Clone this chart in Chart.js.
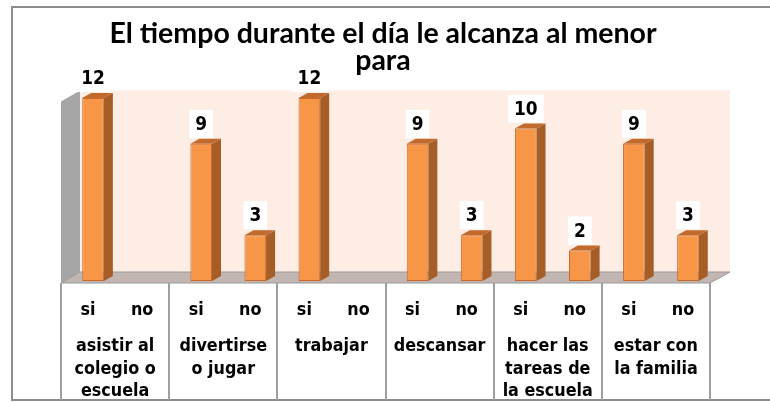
<!DOCTYPE html>
<html>
<head>
<meta charset="utf-8">
<script src="https://cdn.jsdelivr.net/npm/chart.js@4.4.1/dist/chart.umd.min.js"></script>
<style>
  html, body { margin: 0; padding: 0; background: #fff; }
  #wrap { width: 770px; height: 402px; }
</style>
</head>
<body>
<div id="wrap"><canvas id="chart" width="770" height="402"></canvas></div>
<script>
const titleLines = ["El tiempo durante el día le alcanza al menor", "para"];
const categories = [
    ["asistir al", "colegio o", "escuela"],
    ["divertirse", "o jugar"],
    ["trabajar"],
    ["descansar"],
    ["hacer las", "tareas de", "la escuela"],
    ["estar con", "la familia"]
];
const seriesNames = ["si", "no"];
const siValues = [12, 9, 12, 9, 10, 9];
const noValues = [null, 3, null, 3, 2, 3];

const labelFont = "bold 16px 'DejaVu Sans'";
const stretch = 1.15;              // the original text is a bit tall
const depthX = 9, depthY = 5;      // bar depth
const wallX = 19, wallY = 11;      // floor / wall depth

function tallText(ctx, t, x, y) {
    ctx.save();
    ctx.translate(x, y);
    ctx.scale(1, stretch);
    ctx.fillText(t, 0, 0);
    ctx.restore();
}

// walls, floor, table, title
const scenePlugin = {
    id: "scene",
    beforeDatasetsDraw(chart) {
        const ctx = chart.ctx;
        const a = chart.chartArea;
        const x = chart.scales.x;
        const fl = a.left - 5, fr = a.right - 5, fy = a.bottom + 2;

        ctx.save();
        // outer frame
        ctx.strokeStyle = "#8c8c8c";
        ctx.lineWidth = 2;
        ctx.strokeRect(12, 7, 800, 393);

        // back wall
        ctx.fillStyle = "#fdede5";
        ctx.fillRect(fl + wallX, a.top, fr - fl + 1, fy - wallY - a.top);

        // side wall
        ctx.fillStyle = "#a6a6a6";
        ctx.beginPath();
        ctx.moveTo(fl, a.top + wallY);
        ctx.lineTo(fl + wallX, a.top);
        ctx.lineTo(fl + wallX, fy - wallY);
        ctx.lineTo(fl, fy);
        ctx.closePath();
        ctx.fill();

        // floor
        ctx.fillStyle = "#c1b6b1";
        ctx.strokeStyle = "#9a9a9a";
        ctx.lineWidth = 1;
        ctx.beginPath();
        ctx.moveTo(fl, fy);
        ctx.lineTo(fl + wallX, fy - wallY);
        ctx.lineTo(fr + wallX + 1, fy - wallY);
        ctx.lineTo(fr, fy);
        ctx.closePath();
        ctx.fill();
        ctx.stroke();

        // table lines
        ctx.strokeStyle = "#a0a0a0";
        ctx.lineWidth = 2;
        const cw = (a.right - a.left) / categories.length;
        for (let i = 0; i <= categories.length; i++) {
            const lx = Math.round(fl + i * cw);
            ctx.beginPath();
            ctx.moveTo(lx, fy);
            ctx.lineTo(lx, 400);
            ctx.stroke();
        }

        // table text
        ctx.fillStyle = "#000";
        ctx.font = labelFont;
        ctx.textAlign = "center";
        ctx.textBaseline = "alphabetic";
        chart.data.datasets.forEach((ds, d) => {
            chart.getDatasetMeta(d).data.forEach(bar => {
                tallText(ctx, ds.label, bar.x - 5, 315);
            });
        });
        categories.forEach((lines, i) => {
            const cx = x.getPixelForValue(i) - 5;
            lines.forEach((t, j) => tallText(ctx, t, cx, 351 + j * 22.5));
        });

        // title
        ctx.font = "bold 28.5px Lato";
        titleLines.forEach((t, j) => ctx.fillText(t, 383, 43 + j * 27));
        ctx.restore();
    },
    afterDatasetsDraw(chart) {
        const ctx = chart.ctx;
        ctx.save();
        chart.data.datasets.forEach((ds, d) => {
            chart.getDatasetMeta(d).data.forEach((bar, i) => {
                const v = ds.data[i];
                if (!v) return;
                const l = bar.x - bar.width / 2, r = bar.x + bar.width / 2;
                // side face
                ctx.fillStyle = "#a65d26";
                ctx.beginPath();
                ctx.moveTo(r, bar.y);
                ctx.lineTo(r + depthX, bar.y - depthY);
                ctx.lineTo(r + depthX, bar.base - depthY);
                ctx.lineTo(r, bar.base);
                ctx.closePath();
                ctx.fill();
                // top face
                ctx.fillStyle = "#c26a2c";
                ctx.beginPath();
                ctx.moveTo(l, bar.y);
                ctx.lineTo(l + depthX, bar.y - depthY);
                ctx.lineTo(r + depthX, bar.y - depthY);
                ctx.lineTo(r, bar.y);
                ctx.closePath();
                ctx.fill();

                // value label with white box
                ctx.font = "bold 17px 'DejaVu Sans'";
                const txt = String(v);
                const w = ctx.measureText(txt).width + 12;
                const cy = bar.y - 20;
                ctx.fillStyle = "#fff";
                ctx.fillRect(bar.x - w / 2, cy - 14, w, 28);
                ctx.fillStyle = "#000";
                ctx.textAlign = "center";
                ctx.textBaseline = "middle";
                tallText(ctx, txt, bar.x, cy + 1);
            });
        });
        ctx.restore();
    }
};

new Chart(document.getElementById("chart"), {
    type: "bar",
    data: {
        labels: categories,
        datasets: [
            { label: seriesNames[0], data: siValues },
            { label: seriesNames[1], data: noValues }
        ].map(ds => Object.assign(ds, {
            backgroundColor: "#f79646",
            borderColor: "#c8692b",
            borderWidth: 1,
            borderSkipped: false,
            categoryPercentage: 1.0,
            barPercentage: 0.4
        }))
    },
    options: {
        responsive: false,
        animation: false,
        layout: { padding: { left: 66, right: 55, top: 90.4, bottom: 121 } },
        scales: {
            x: { display: false },
            y: { display: false, min: 0, max: 12.5 }
        },
        plugins: {
            legend: { display: false },
            tooltip: { enabled: false },
            title: { display: false }
        }
    },
    plugins: [scenePlugin]
});
</script>
</body>
</html>
